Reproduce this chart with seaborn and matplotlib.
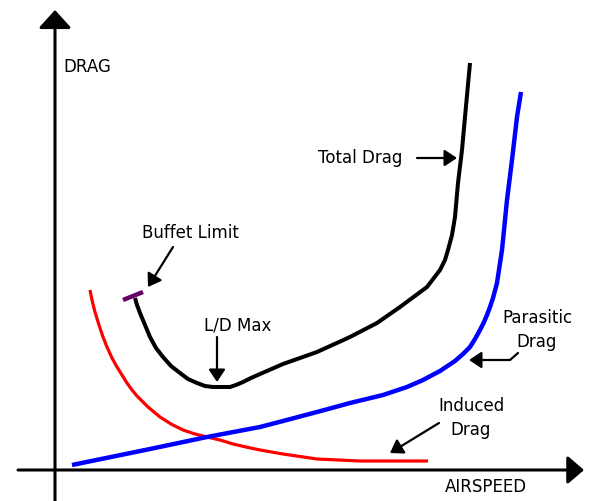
import pandas as pd
import matplotlib
matplotlib.use('Agg')
import matplotlib.pyplot as plt
import seaborn as sns

# Data (airspeed / drag units, origin at the axes corner)
induced_speed = [35, 37, 40, 44, 48, 52, 57, 62, 67, 72, 77, 82, 88, 93, 99, 105, 116, 128,
                 140, 152, 165, 178, 191, 205, 228, 262, 305, 373]
induced_drag = [180, 170, 158, 145, 133, 123, 112, 103, 95, 87, 80, 74, 68, 63, 58, 53, 46, 40,
                36, 33, 30, 26, 23, 20, 16, 11, 9, 9]

parasitic_speed = [17, 95, 152, 205, 228, 262, 295, 328, 352, 368, 385, 400, 408, 415, 420, 425,
                   429, 432, 435, 438, 442, 447, 452, 457, 462, 466]
parasitic_drag = [5, 21, 33, 43, 49, 58, 67, 75, 83, 90, 99, 109, 116, 123, 131, 140,
                  148, 155, 163, 172, 187, 220, 270, 310, 353, 378]

total_speed = [80, 82, 85, 90, 95, 101, 108, 116, 125, 133, 142, 150, 158, 166, 175, 181, 188,
               196, 205, 228, 262, 295, 322, 345, 372, 385, 390, 393, 397, 400, 403, 407, 410, 415]
total_drag = [172, 165, 157, 145, 133, 122, 113, 104, 97, 91, 87, 84, 83, 83, 83, 85, 88,
              92, 96, 106, 118, 133, 147, 163, 183, 200, 210, 220, 235, 253, 287, 320, 353, 407]

buffet_speed = [68, 88]
buffet_drag = [170, 178]

sns.set_style('white')
plt.rcParams['font.family'] = ['DejaVu Sans']
plt.rcParams['text.color'] = 'black'

fig = plt.figure(figsize=(5.92, 5.01), dpi=100)
ax = fig.add_axes([0, 0, 1, 1])

curves = [
    (induced_speed, induced_drag, '#ff0000', 2.3),
    (parasitic_speed, parasitic_drag, '#0000ff', 3.2),
    (total_speed, total_drag, '#000000', 2.9),
    (buffet_speed, buffet_drag, '#660066', 3.2),
]
for xs, ys, col, lw in curves:
    df = pd.DataFrame({'speed': xs, 'drag': ys})
    sns.lineplot(data=df, x='speed', y='drag', sort=False, estimator=None,
                 color=col, linewidth=lw, ax=ax, solid_capstyle='butt',
                 solid_joinstyle='round')

ax.set_xlim(-55, 537)
ax.set_ylim(-31, 470)
ax.axis('off')

# axis arrows
ax.annotate('', xy=(0, 460), xytext=(0, -31),
            arrowprops=dict(arrowstyle='-|>,head_length=11,head_width=10', mutation_scale=1,
                            lw=2.2, color='black', shrinkA=0, shrinkB=0))
ax.annotate('', xy=(529, 0), xytext=(-37, 0),
            arrowprops=dict(arrowstyle='-|>,head_length=10,head_width=8.6', mutation_scale=1,
                            lw=2.2, color='black', shrinkA=0, shrinkB=0))

fs = 12
ax.text(8, 403, 'DRAG', fontsize=fs, ha='left', va='center', color='black')
ax.text(431, -17, 'AIRSPEED', fontsize=fs, ha='center', va='center', color='black')

arrow_kw = dict(arrowstyle='-|>,head_length=7.5,head_width=5', mutation_scale=1,
                lw=1.6, color='black', shrinkA=0, shrinkB=0)

ax.text(305, 312, 'Total Drag', fontsize=fs, ha='center', va='center', color='black')
ax.annotate('', xy=(402, 312), xytext=(362, 312), arrowprops=arrow_kw)

ax.text(135, 237, 'Buffet Limit', fontsize=fs, ha='center', va='center', color='black')
ax.annotate('', xy=(93, 183), xytext=(118, 223), arrowprops=arrow_kw)

ax.text(183, 144, 'L/D Max', fontsize=fs, ha='center', va='center', color='black')
ax.annotate('', xy=(162, 88), xytext=(162, 133), arrowprops=arrow_kw)

ax.text(482, 140, 'Parasitic\nDrag', fontsize=fs, ha='center', va='center', linespacing=1.4,
        color='black')
ax.plot([463, 455], [117, 110], color='black', lw=1.6)
ax.annotate('', xy=(414, 110), xytext=(455, 110), arrowprops=arrow_kw)

ax.text(416, 52, 'Induced\nDrag', fontsize=fs, ha='center', va='center', linespacing=1.4,
        color='black')
ax.annotate('', xy=(335, 17), xytext=(384, 47), arrowprops=arrow_kw)

fig.savefig('out.png', dpi=100, facecolor='white')
